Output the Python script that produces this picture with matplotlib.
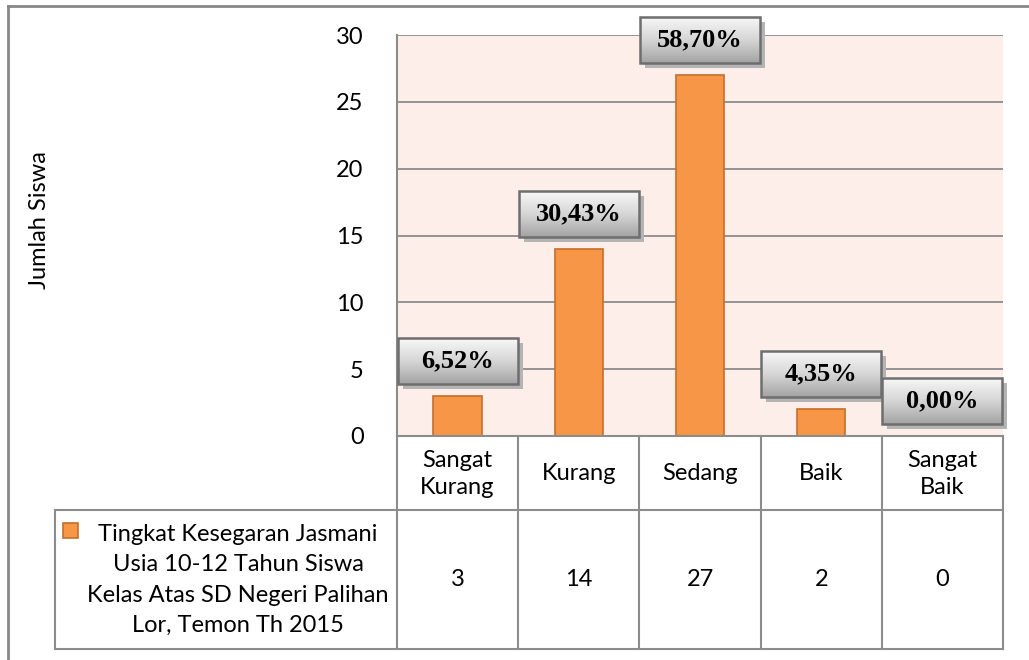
import numpy as np
import matplotlib.pyplot as plt
from matplotlib.lines import Line2D
from matplotlib.patches import Rectangle
from matplotlib.colors import LinearSegmentedColormap

categories = ["Sangat\nKurang", "Kurang", "Sedang", "Baik", "Sangat\nBaik"]
jumlah = [3, 14, 27, 2, 0]
yticks = [0, 5, 10, 15, 20, 25, 30]
series_name = "Tingkat Kesegaran Jasmani\nUsia 10-12 Tahun Siswa\nKelas Atas SD Negeri Palihan\nLor, Temon Th 2015"
ylabel = "Jumlah Siswa"

W, H = 1029, 660
plt.rcParams['font.family'] = ['Lato', 'DejaVu Sans']
FS = 17


def fx(px):
    return px / W


def fy(py):
    return 1 - py / H


fig = plt.figure(figsize=(W / 100, H / 100), dpi=100)
ax = fig.add_axes([fx(397), fy(436), fx(1003) - fx(397), fy(35) - fy(436)])
ax.set_facecolor("#fdeee9")

x = np.arange(len(categories))
ax.bar(x, jumlah, width=0.4, color="#f79646", edgecolor="#c46f2c", linewidth=1.2, zorder=2)
ax.set_xlim(-0.5, len(categories) - 0.5)
ax.set_ylim(0, 30)
ax.set_yticks(yticks)
ax.yaxis.grid(True, color="#8c8c8c", linewidth=1.3, zorder=1)
ax.set_axisbelow(True)
ax.set_xticks([])
ax.tick_params(axis="y", length=0, pad=24, labelsize=FS)
for s in ["top", "right"]:
    ax.spines[s].set_visible(False)
for s in ["left", "bottom"]:
    ax.spines[s].set_color("#8c8c8c")
    ax.spines[s].set_linewidth(1.5)

fig.text(fx(40), fy(220), ylabel, rotation=90, ha="center", va="center", fontsize=FS)

# data table
gray = "#8c8c8c"
fig.canvas.draw()
to_px = ax.transData.transform
edges_px = [to_px((i - 0.5, 0))[0] for i in range(len(categories) + 1)]
for ex in edges_px:
    fig.add_artist(Line2D([fx(ex), fx(ex)], [fy(436), fy(649)], color=gray, lw=1.5))
fig.add_artist(Line2D([fx(55), fx(55)], [fy(510), fy(649)], color=gray, lw=1.5))
for yy in [510, 649]:
    fig.add_artist(Line2D([fx(55), fx(edges_px[-1])], [fy(yy), fy(yy)], color=gray, lw=1.5))

for i, (c, v) in enumerate(zip(categories, jumlah)):
    cx = to_px((i, 0))[0]
    fig.text(fx(cx), fy(474), c, ha="center", va="center", fontsize=FS, linespacing=1.4)
    fig.text(fx(cx), fy(580), str(v), ha="center", va="center", fontsize=FS)

fig.add_artist(Rectangle((fx(63), fy(538)), fx(78) - fx(63), fy(523) - fy(538),
                         facecolor="#f79646", edgecolor="#c46f2c", lw=1.2))
fig.text(fx(238), fy(580), series_name, ha="center", va="center", fontsize=FS, linespacing=1.55)

# percentage labels with gradient boxes
total = sum(jumlah)
inv = ax.transData.inverted()
grad = np.linspace(0, 1, 64).reshape(-1, 1)
cmap = LinearSegmentedColormap.from_list("g", ["#f8f8f8", "#d6d6d6", "#a4a4a4"])
bw, bh = 120, 46
for i, v in enumerate(jumlah):
    px, py = to_px((i, v))
    cy = py + 35
    x0, y0 = inv.transform((px - bw / 2, cy - bh / 2))
    x1, y1 = inv.transform((px + bw / 2, cy + bh / 2))
    sx0, sy0 = inv.transform((px - bw / 2 + 5, cy - bh / 2 - 5))
    ax.add_patch(Rectangle((sx0, sy0), x1 - x0, y1 - y0, facecolor="#b4b4b4",
                           edgecolor="none", zorder=3, clip_on=False))
    ax.imshow(grad, extent=[x0, x1, y0, y1], aspect="auto", cmap=cmap,
              zorder=4, clip_on=False, origin="upper")
    ax.add_patch(Rectangle((x0, y0), x1 - x0, y1 - y0, facecolor="none",
                           edgecolor="#6e6e6e", lw=1.8, zorder=5, clip_on=False))
    pct = "{:.2f}%".format(v / total * 100).replace(".", ",")
    tx, ty = inv.transform((px, cy))
    ax.text(tx, ty, pct, ha="center", va="center", fontsize=19, fontweight="bold",
            family="Liberation Serif", zorder=6)

ax.set_xlim(-0.5, len(categories) - 0.5)
ax.set_ylim(0, 30)

# outer frame
fig.add_artist(Line2D([fx(8), fx(W)], [fy(6), fy(6)], color="#888888", lw=2))
fig.add_artist(Line2D([fx(8), fx(8)], [fy(6), fy(H)], color="#888888", lw=2))

fig.savefig("out.png", dpi=100)
